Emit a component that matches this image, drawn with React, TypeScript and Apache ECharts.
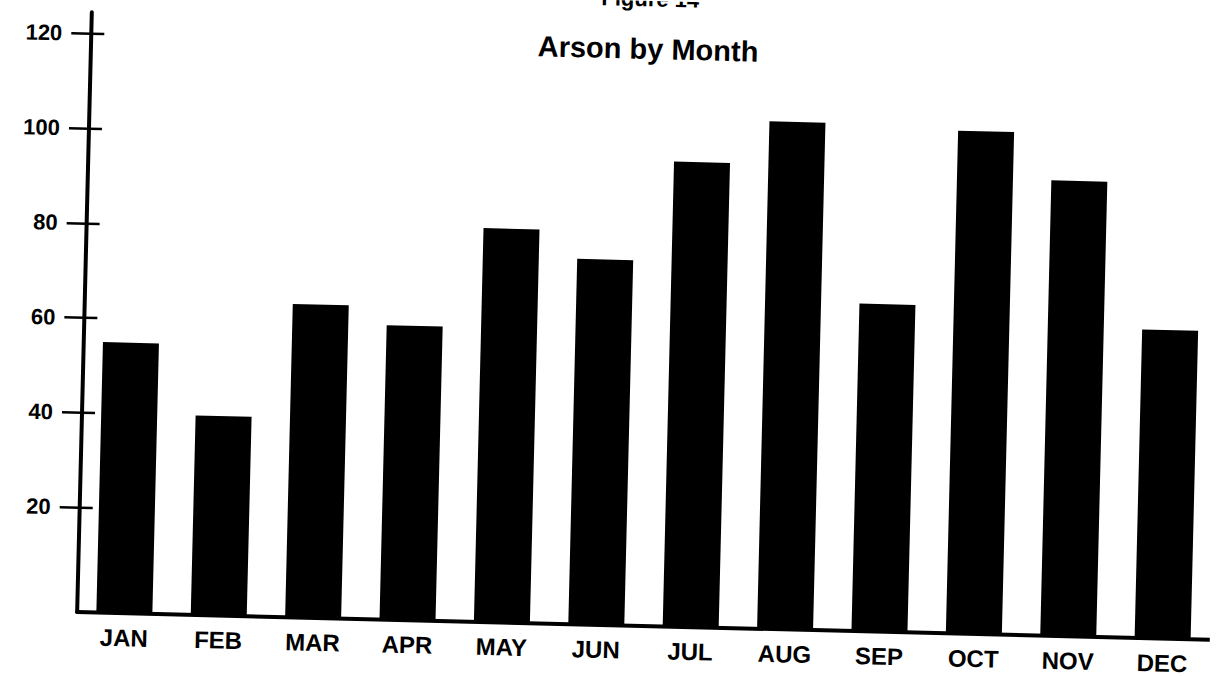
import React, { useEffect, useRef } from "react";
import * as echarts from "echarts";

const months = ["JAN", "FEB", "MAR", "APR", "MAY", "JUN", "JUL", "AUG", "SEP", "OCT", "NOV", "DEC"];
const arsons = [55, 40, 64, 60, 81, 75, 96, 105, 67, 104, 94, 63];
const yTicks = [20, 40, 60, 80, 100, 120];
const titleText = "Arson by Month";
const figureText = "Figure 14";

const FONT = '"Liberation Sans", Arial, Helvetica, sans-serif';

export default function App() {
  const ref = useRef<HTMLDivElement>(null);

  useEffect(() => {
    if (!ref.current) return;
    const chart = echarts.init(ref.current, null, { renderer: "svg" });
    chart.setOption({
      animation: false,
      backgroundColor: "#ffffff",
      grid: { left: 84, right: -1, top: 25, bottom: 51.5, containLabel: false },
      graphic: [
        {
          type: "text",
          x: 642,
          y: -2,
          style: {
            text: figureText,
            fill: "#000",
            font: `bold 22px ${FONT}`,
            align: "center",
            verticalAlign: "middle",
          },
        },
        {
          type: "text",
          x: 641,
          y: 48,
          style: {
            text: titleText,
            fill: "#000",
            font: `bold 29px ${FONT}`,
            align: "center",
            verticalAlign: "middle",
          },
        },
      ],
      xAxis: {
        type: "category",
        data: months,
        boundaryGap: true,
        axisLine: { onZero: false, lineStyle: { color: "#000", width: 4 } },
        axisTick: { show: false },
        axisLabel: {
          interval: 0,
          margin: 13,
          color: "#000",
          fontSize: 24,
          fontWeight: "bold",
          fontFamily: FONT,
        },
        splitLine: { show: false },
      },
      yAxis: [
        {
          type: "value",
          min: -2,
          max: 124.5,
          startValue: -2,
          position: "left",
          axisLine: { show: true, lineStyle: { color: "#000", width: 4, cap: "round" } },
          axisTick: {
            show: true,
            inside: false,
            length: 20,
            customValues: yTicks,
            lineStyle: { color: "#000", width: 2.5 },
          },
          axisLabel: {
            show: true,
            customValues: yTicks,
            margin: 29,
            color: "#000",
            fontSize: 22,
            fontWeight: "bold",
            fontFamily: FONT,
          },
          splitLine: { show: false },
        },
        {
          type: "value",
          min: -2,
          max: 124.5,
          position: "left",
          axisLine: { show: false },
          axisTick: {
            show: true,
            inside: true,
            length: 13,
            customValues: yTicks,
            lineStyle: { color: "#000", width: 2.5 },
          },
          axisLabel: { show: false },
          splitLine: { show: false },
        },
      ],
      series: [
        {
          type: "bar",
          name: titleText,
          data: arsons,
          yAxisIndex: 0,
          barWidth: 56,
          itemStyle: { color: "#000" },
        },
      ],
    });
    return () => chart.dispose();
  }, []);

  return (
    <div
      style={{
        position: "fixed",
        left: 0,
        top: 0,
        width: 1217,
        height: 676,
        overflow: "hidden",
        background: "#fff",
      }}
    >
      <div
        ref={ref}
        style={{
          position: "absolute",
          left: 0,
          top: 0,
          width: 1217,
          height: 676,
          transform: "rotate(1.4deg)",
          transformOrigin: "50% 50%",
        }}
      />
    </div>
  );
}
